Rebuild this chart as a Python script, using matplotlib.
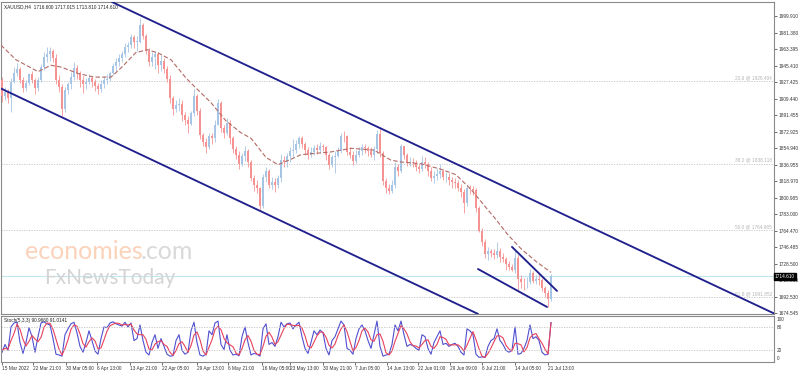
import matplotlib.pyplot as plt
import numpy as np

# XAUUSD H4 - half-day candles (open = previous close)
first_open = 1930
closes = [1912, 1917, 1910, 1928, 1938, 1942, 1930, 1921, 1927, 1936,
          1930, 1921, 1930, 1944, 1955, 1958, 1962, 1954, 1930, 1922,
          1898, 1919, 1925, 1933, 1943, 1937, 1930, 1925, 1928, 1932,
          1928, 1923, 1920, 1925, 1930, 1931, 1938, 1945, 1950, 1954,
          1958, 1966, 1968, 1977, 1972, 1972, 1990, 1978, 1962, 1950,
          1955, 1958, 1946, 1951, 1942, 1931, 1910, 1898, 1902, 1904,
          1892, 1886, 1882, 1894, 1912, 1896, 1870, 1862, 1856, 1868,
          1866, 1881, 1905, 1877, 1872, 1883, 1866, 1854, 1848, 1838,
          1846, 1852, 1840, 1822, 1815, 1811, 1792, 1824, 1830, 1815,
          1818, 1815, 1822, 1842, 1840, 1846, 1852, 1853, 1860, 1866,
          1860, 1853, 1848, 1851, 1855, 1853, 1857, 1856, 1848, 1837,
          1845, 1847, 1852, 1869, 1868, 1851, 1848, 1841, 1848, 1852,
          1856, 1855, 1852, 1848, 1854, 1871, 1850, 1819, 1812, 1808,
          1815, 1834, 1830, 1857, 1848, 1839, 1840, 1839, 1834, 1832,
          1840, 1838, 1830, 1822, 1825, 1827, 1830, 1823, 1824, 1820,
          1818, 1817, 1812, 1807, 1795, 1811, 1810, 1809, 1790, 1764,
          1752, 1739, 1742, 1740, 1738, 1742, 1736, 1734, 1728, 1725,
          1722, 1735, 1712, 1709, 1708, 1708, 1718, 1710, 1712, 1711,
          1702, 1696, 1690, 1714.61]
highs = [1933, 1922, 1920, 1932, 1944, 1948, 1944, 1933, 1930, 1938,
         1940, 1932, 1933, 1947, 1960, 1966, 1966, 1964, 1958, 1935,
         1925, 1922, 1928, 1939, 1950, 1946, 1940, 1934, 1932, 1936,
         1934, 1931, 1927, 1930, 1934, 1936, 1940, 1948, 1954, 1958,
         1962, 1970, 1972, 1980, 1979, 1978, 1998, 1992, 1980, 1965,
         1960, 1962, 1960, 1957, 1954, 1945, 1935, 1912, 1908, 1910,
         1908, 1895, 1890, 1896, 1920, 1914, 1899, 1872, 1866, 1872,
         1872, 1886, 1909, 1907, 1880, 1888, 1886, 1868, 1858, 1852,
         1850, 1858, 1854, 1842, 1826, 1820, 1813, 1827, 1834, 1832,
         1824, 1822, 1826, 1849, 1847, 1850, 1856, 1865, 1864, 1869,
         1868, 1862, 1856, 1856, 1859, 1860, 1862, 1860, 1858, 1850,
         1848, 1852, 1856, 1872, 1874, 1870, 1856, 1852, 1853, 1856,
         1860, 1860, 1858, 1856, 1858, 1875, 1878, 1852, 1822, 1816,
         1820, 1840, 1838, 1860, 1858, 1850, 1845, 1844, 1842, 1838,
         1847, 1845, 1840, 1834, 1830, 1833, 1838, 1832, 1829, 1828,
         1824, 1822, 1820, 1816, 1810, 1814, 1815, 1814, 1812, 1792,
         1768, 1756, 1747, 1745, 1745, 1752, 1746, 1740, 1736, 1732,
         1728, 1745, 1738, 1716, 1713, 1714, 1723, 1720, 1716, 1718,
         1713, 1704, 1700, 1717]
lows = [1906, 1908, 1905, 1895, 1926, 1934, 1926, 1917, 1918, 1924,
        1927, 1914, 1918, 1928, 1941, 1950, 1951, 1950, 1925, 1917,
        1890, 1895, 1915, 1920, 1930, 1931, 1922, 1916, 1920, 1925,
        1922, 1918, 1915, 1917, 1921, 1925, 1929, 1935, 1940, 1945,
        1950, 1955, 1960, 1965, 1965, 1962, 1970, 1975, 1958, 1945,
        1945, 1942, 1938, 1940, 1937, 1928, 1905, 1891, 1895, 1896,
        1885, 1881, 1872, 1880, 1890, 1892, 1865, 1857, 1850, 1854,
        1860, 1862, 1880, 1873, 1866, 1870, 1860, 1850, 1843, 1832,
        1836, 1841, 1834, 1819, 1808, 1806, 1787, 1790, 1818, 1811,
        1810, 1807, 1812, 1818, 1834, 1835, 1840, 1845, 1850, 1855,
        1855, 1848, 1843, 1845, 1848, 1849, 1850, 1852, 1842, 1832,
        1835, 1828, 1845, 1850, 1862, 1848, 1844, 1837, 1839, 1845,
        1848, 1850, 1846, 1845, 1842, 1850, 1845, 1815, 1806, 1805,
        1806, 1812, 1825, 1828, 1843, 1836, 1836, 1834, 1830, 1828,
        1830, 1833, 1825, 1819, 1817, 1820, 1822, 1820, 1818, 1815,
        1812, 1812, 1808, 1802, 1784, 1792, 1805, 1804, 1785, 1763,
        1748, 1735, 1733, 1736, 1734, 1735, 1730, 1730, 1722, 1722,
        1720, 1718, 1697, 1702, 1700, 1702, 1706, 1707, 1706, 1705,
        1699, 1692, 1681, 1688]

# moving average (dashed), sampled along the chart
ma_x = [0, 15, 37, 50, 60, 77, 93, 110, 120, 135, 147, 158, 170, 185, 195,
        210, 225, 240, 250, 265, 277, 290, 300, 330, 350, 373, 390, 400,
        420, 440, 455, 470, 485, 495, 507, 520, 535, 550]
ma_y = [1968, 1952, 1939, 1946, 1944, 1937, 1933, 1933, 1943, 1960, 1963,
        1959, 1952, 1932, 1921, 1905, 1885, 1872, 1866, 1845, 1837, 1843,
        1848, 1851, 1855, 1853, 1842, 1840, 1838, 1832, 1826, 1810, 1790,
        1777, 1760, 1745, 1731, 1719]

# Stochastic(5,3,3)
stoch_k = [15, 35, 20, 80, 90, 92, 40, 12, 40, 78, 55, 15, 55, 90, 93, 88,
           85, 50, 10, 8, 5, 60, 75, 88, 92, 65, 30, 15, 40, 70, 45, 18, 10,
           50, 80, 78, 90, 93, 88, 85, 82, 92, 80, 90, 45, 50, 85, 45, 15, 8,
           40, 60, 25, 50, 30, 10, 5, 6, 45, 60, 20, 10, 15, 70, 92, 40, 8, 5,
           10, 70, 60, 90, 95, 35, 22, 60, 20, 8, 10, 6, 55, 80, 40, 8, 12,
           10, 5, 75, 88, 35, 40, 30, 55, 92, 80, 88, 90, 75, 85, 92, 55, 25,
           12, 40, 70, 60, 72, 65, 25, 8, 45, 55, 75, 95, 85, 25, 20, 10, 50,
           75, 85, 70, 45, 25, 60, 95, 30, 5, 8, 10, 35, 85, 70, 95, 60, 30,
           35, 32, 25, 20, 60, 55, 25, 10, 40, 55, 70, 35, 38, 30, 35, 38, 30,
           15, 8, 75, 70, 60, 10, 2, 3, 2, 30, 45, 50, 75, 45, 35, 20, 15, 20,
           80, 10, 12, 25, 45, 85, 50, 55, 45, 15, 8, 10, 91]
stoch_d = [20, 25, 23, 45, 63, 87, 74, 48, 31, 43, 58, 49, 42, 53, 79, 90,
           89, 74, 48, 23, 8, 24, 47, 74, 85, 82, 62, 37, 28, 42, 52, 44, 24,
           26, 47, 69, 83, 87, 90, 89, 85, 86, 85, 87, 72, 62, 60, 60, 48, 23,
           21, 36, 42, 45, 35, 30, 15, 7, 19, 37, 42, 30, 15, 32, 59, 67, 47,
           18, 8, 28, 47, 73, 82, 73, 51, 39, 34, 29, 13, 8, 24, 47, 58, 43,
           20, 10, 9, 30, 56, 66, 54, 35, 42, 59, 76, 87, 86, 84, 83, 84, 77,
           57, 31, 26, 41, 57, 67, 66, 54, 33, 26, 36, 58, 75, 85, 68, 43, 18,
           27, 45, 70, 77, 67, 47, 43, 60, 62, 43, 14, 8, 18, 43, 63, 83, 75,
           62, 42, 32, 31, 26, 35, 45, 47, 30, 25, 35, 55, 53, 48, 34, 34, 34,
           34, 28, 18, 33, 51, 68, 47, 24, 5, 2, 12, 26, 42, 57, 57, 52, 33,
           23, 18, 38, 37, 34, 16, 27, 52, 60, 63, 50, 38, 23, 11, 91]

price_ticks = [1999.910, 1981.380, 1963.395, 1945.410, 1927.425, 1909.440,
               1891.455, 1872.925, 1854.940, 1836.955, 1818.970, 1800.985,
               1783.000, 1764.470, 1746.485, 1728.500, 1710.515, 1692.530,
               1674.545]
fib_levels = [1928.404, 1838.118, 1764.985, 1691.852]
fib_names = ["23.6", "38.2", "50.0", "61.8"]
last_price = 1714.610

date_labels = ["15 Mar 2022", "22 Mar 21:00", "30 Mar 05:00", "6 Apr 13:00",
               "13 Apr 21:00", "22 Apr 05:00", "29 Apr 13:00", "6 May 21:00",
               "16 May 05:00", "23 May 13:00", "30 May 21:00", "7 Jun 05:00",
               "14 Jun 13:00", "22 Jun 01:00", "29 Jun 09:00", "6 Jul 21:00",
               "14 Jul 05:00", "21 Jul 13:00"]
date_pos = [1, 32, 65, 96, 129, 161, 196, 227, 261, 289, 322, 354, 386, 417,
            449, 481, 514, 547]

# trend lines drawn on the chart: (x0, p0, x1, p1)
channel_top = (111, 2015.3, 774, 1673.5)
channel_bottom = (-1, 1921.0, 477, 1673.5)
wedge_top = (511, 1746.9, 556, 1698.7)
wedge_bottom = (477, 1722.7, 546, 1681.1)

small = dict(fontsize=3.4, family="Liberation Sans")
frame = "#8a8a8a"

fig = plt.figure(figsize=(8, 3.72), dpi=100)
ax = fig.add_axes([1 / 800, 58 / 372, 773 / 800, 312 / 372])
ax2 = fig.add_axes([1 / 800, 10 / 372, 773 / 800, 46 / 372])

x = np.arange(len(closes)) * 3 + 1
opens = [first_open] + closes[:-1]
up_col, dn_col = "#a6c4e4", "#f59393"
for xi, o, h, l, c in zip(x, opens, highs, lows, closes):
    col = up_col if c >= o else dn_col
    ax.vlines(xi, l, h, color=col, lw=0.6, zorder=3)
    ax.bar(xi, abs(c - o) if abs(c - o) > 0.4 else 0.4, bottom=min(o, c),
           width=2.0, color=col, lw=0, zorder=3)

ax.plot(ma_x, ma_y, color="#b46a64", lw=0.8, dashes=(4, 2), zorder=4)

for lv, nm in zip(fib_levels, fib_names):
    ax.axhline(lv, color="#c4c4c4", lw=0.6, ls=(0, (1.5, 1.5)), zorder=1)
    ax.text(771, lv + 1, "%s @ %.3f" % (nm, lv), ha="right", va="bottom",
            color="#b4b4b4", **small)

ax.axhline(last_price, color="#bfe6ee", lw=0.8, zorder=1)

for (x0, p0, x1, p1) in [channel_top, channel_bottom, wedge_top, wedge_bottom]:
    ax.plot([x0, x1], [p0, p1], color="#20208e", lw=1.35, zorder=5,
            solid_capstyle="round")

ax.text(3, 2010, "XAUUSD,H4  1716.600 1717.015 1713.810 1714.610",
        ha="left", va="center", color="#222222", **small)

# watermark
ax.text(24, 1742, "economies", color="#fbd3bb", fontsize=18, family="Lato",
        ha="left", va="center", zorder=2)
ax.text(140, 1742, ".com", color="#d9d9d9", fontsize=18, family="Lato",
        ha="left", va="center", zorder=2)
ax.text(43, 1713, "FxNewsToday", color="#d4d4d4", fontsize=15, family="Lato",
        ha="left", va="center", zorder=2)

ax.set_xlim(0, 773)
ax.set_ylim(1673.4, 2015.3)
ax.yaxis.tick_right()
ax.set_yticks(price_ticks)
ax.set_yticklabels(["%.3f" % v for v in price_ticks], **small)
ax.tick_params(axis="y", length=2, width=0.5, pad=1, colors="#333333")
ax.set_xticks([])
for s in ax.spines.values():
    s.set_color(frame)
    s.set_linewidth(0.8)

ax.text(1.0 + 1 / 773, last_price, "%.3f" % last_price, transform=ax.get_yaxis_transform(),
        ha="left", va="center", color="white", zorder=10, clip_on=False,
        bbox=dict(boxstyle="square,pad=0.15", fc="black", ec="black"), **small)

# stochastic panel
xs = np.arange(len(stoch_k)) * 3 + 1
ax2.plot(xs, stoch_k, color="#5050d0", lw=0.8)
ax2.plot(xs[:len(stoch_d)], stoch_d, color="#e8425a", lw=0.8)
for lv in (80, 20):
    ax2.axhline(lv, color="#c4c4c4", lw=0.6, ls=(0, (1.5, 1.5)))
ax2.text(3, 104, "Stoch(5,3,3) 90.9660 91.0141", ha="left", va="top",
         color="#222222", **small)
ax2.set_xlim(0, 773)
ax2.set_ylim(-10, 108)
ax2.yaxis.tick_right()
ax2.set_yticks([100, 80, 20, 0])
ax2.set_yticklabels(["100", "80", "20", "0"], **small)
ax2.tick_params(axis="y", length=0, pad=2, colors="#333333")
ax2.set_xticks(date_pos)
ax2.set_xticklabels(date_labels, ha="left", **small)
ax2.tick_params(axis="x", length=2, width=0.5, pad=1, colors="#333333")
for s in ax2.spines.values():
    s.set_color(frame)
    s.set_linewidth(0.8)

fig.savefig("out.png", dpi=100)
